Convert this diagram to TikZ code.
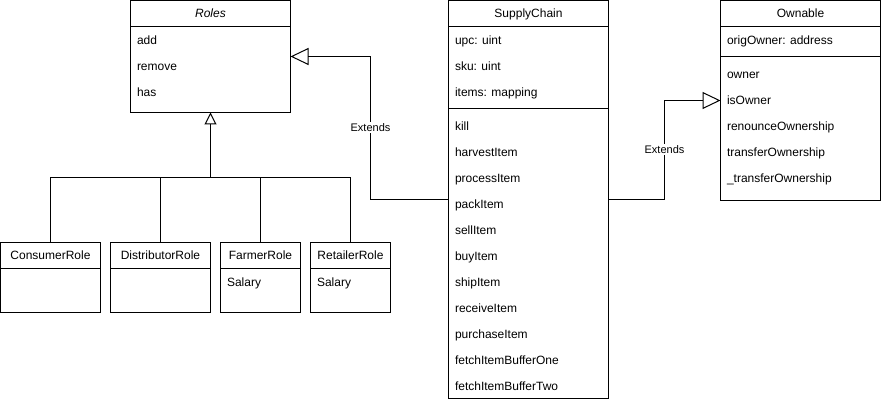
\documentclass[tikz,border=0pt]{standalone}
\usepackage{fontspec}
\setmainfont{Liberation Sans}
\usetikzlibrary{arrows.meta,calc}
\begin{document}
\begin{tikzpicture}[x=0.75pt,y=-0.75pt,
 line width=0.75pt,
 classbox/.style={draw, anchor=north west, inner sep=0pt, outer sep=0pt},
 member/.style={anchor=west, inner sep=0pt, font=\fontsize{9pt}{11pt}\selectfont, text height=8pt, text depth=2pt},
 ctitle/.style={anchor=center, inner sep=0pt, font=\fontsize{9pt}{11pt}\selectfont, text height=8pt, text depth=2pt},
 extends/.style={-{Triangle[open,length=13.5pt,width=12.75pt]}},
 inherit/.style={-{Triangle[open,length=9pt,width=9pt]}},
 lbl/.style={fill=white, inner sep=1pt, font=\fontsize{8.25pt}{10pt}\selectfont},
]
\useasboundingbox (0,0) rectangle (881,402);
\fill[white] (0,0) rectangle (881,402);

% class boxes
\node[classbox, minimum width=120pt, minimum height=84pt] (roles) at (130.5,0.5) {};
\node[classbox, minimum width=75pt, minimum height=52.5pt] (consumer) at (0.5,242.5) {};
\node[classbox, minimum width=75pt, minimum height=52.5pt] (distributor) at (110.5,242.5) {};
\node[classbox, minimum width=60pt, minimum height=52.5pt] (farmer) at (220.5,242.5) {};
\node[classbox, minimum width=60pt, minimum height=52.5pt] (retailer) at (310.5,242.5) {};
\node[classbox, minimum width=120pt, minimum height=298.5pt] (sc) at (448.5,0.5) {};
\node[classbox, minimum width=120pt, minimum height=150pt] (own) at (720.5,0.5) {};

% compartment lines
\foreach \b in {roles,consumer,distributor,farmer,retailer,sc,own}
  \draw ($(\b.north west)+(0,26)$) -- ($(\b.north east)+(0,26)$);
\draw ($(sc.north west)+(0,108)$) -- ($(sc.north east)+(0,108)$);
\draw ($(own.north west)+(0,56)$) -- ($(own.north east)+(0,56)$);

% titles
\node[ctitle, font=\fontsize{9pt}{11pt}\selectfont\itshape] (rolesT) at (210.5,13.5) {Roles};
\node[ctitle] (consumerT) at (50.5,255.5) {ConsumerRole};
\node[ctitle] (distributorT) at (160.5,255.5) {DistributorRole};
\node[ctitle] (farmerT) at (260.5,255.5) {FarmerRole};
\node[ctitle] (retailerT) at (350.5,255.5) {RetailerRole};
\node[ctitle] (scT) at (528.5,13.5) {SupplyChain};
\node[ctitle] (ownT) at (800.5,13.5) {Ownable};

% members
\foreach \t [count=\i from 0] in {add,remove,has}
  \node[member] (rolesM\i) at (136.5,40.5+26*\i) {\t};
\node[member] (farmerM) at (226.5,282.5) {Salary};
\node[member] (retailerM) at (316.5,282.5) {Salary};
\foreach \t [count=\i from 0] in {upc: uint,sku: uint,items: mapping}
  \node[member] (scA\i) at (454.5,40.5+26*\i) {\t};
\foreach \t [count=\i from 0] in {kill,harvestItem,processItem,packItem,sellItem,buyItem,shipItem,receiveItem,purchaseItem,fetchItemBufferOne,fetchItemBufferTwo}
  \node[member] (scM\i) at (454.5,126.5+26*\i) {\t};
\node[member] (ownA0) at (726.5,40.5) {origOwner: address};
\foreach \t [count=\i from 0] in {owner,isOwner,renounceOwnership,transferOwnership,\_transferOwnership}
  \node[member] (ownM\i) at (726.5,74.5+26*\i) {\t};

% inheritance tree
\coordinate (bus) at (210.5,177.5);
\draw[inherit] (bus) -- (roles.south);
\draw (consumer.north) |- (bus) -| (retailer.north);
\draw (distributor.north) -- (distributor.north |- bus);
\draw (farmer.north) -- (farmer.north |- bus);

% extends connectors
\coordinate (scL) at (448.5,199.5);
\coordinate (bendL1) at (370.5,199.5);
\coordinate (bendL2) at (370.5,56.5);
\draw[extends] (scL) -- (bendL1) -- (bendL2) -- (roles.east |- bendL2);
\node[lbl] (extL) at (370.5,127.5) {Extends};

\coordinate (scR) at (608.5,199.5);
\coordinate (bendR1) at (664.5,199.5);
\coordinate (bendR2) at (664.5,100.5);
\draw[extends] (scR) -- (bendR1) -- (bendR2) -- (own.west |- bendR2);
\node[lbl] (extR) at (664.5,149.5) {Extends};
\end{tikzpicture}
\end{document}
